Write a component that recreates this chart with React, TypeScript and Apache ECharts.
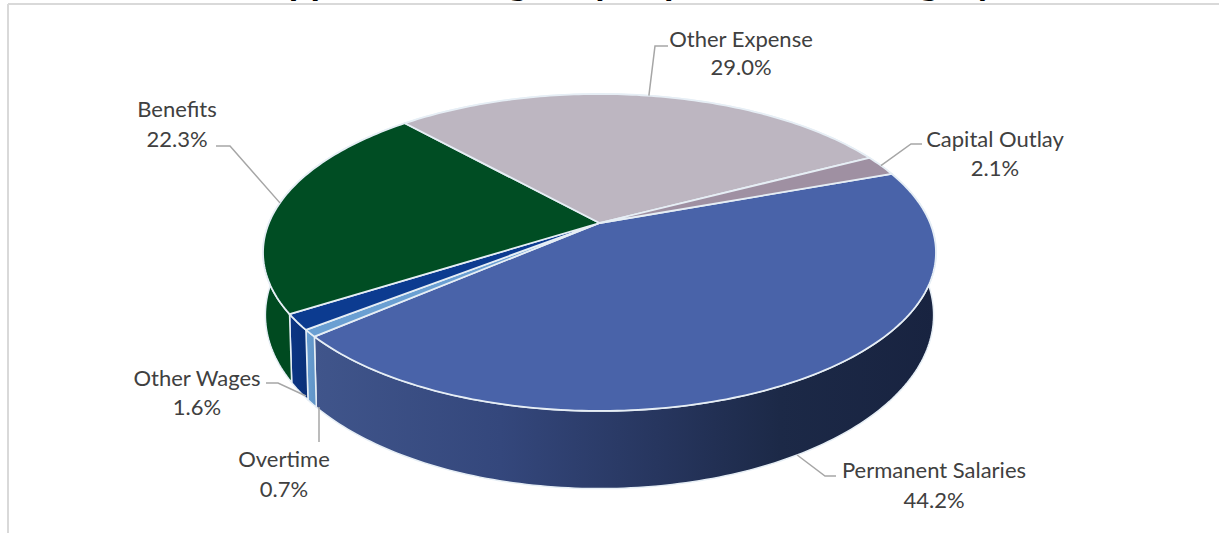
import React, { useEffect, useRef } from "react";
import * as echarts from "echarts";

const titleText = "Approved Budget by Expenditure Category";
const categories = ["Permanent Salaries", "Overtime", "Other Wages", "Benefits", "Other Expense", "Capital Outlay"];
const shares = [44.2, 0.7, 1.6, 22.3, 29.0, 2.1];

const topColors = ["#4963a9", "#6a9fd2", "#0c3b90", "#004d23", "#bdb6c1", "#9f90a2"];
const wallColors = [
  [[0, "#40558b"], [0.3, "#34477c"], [0.55, "#27365f"], [0.75, "#1c2947"], [1, "#182340"]],
  [[0, "#6a9fd2"], [1, "#5f93c6"]],
  [[0, "#0c3584"], [1, "#0a3078"]],
  [[0, "#004a20"], [1, "#004a20"]],
  [[0, "#8f8a93"], [1, "#8f8a93"]],
  [[0, "#7d7080"], [1, "#7d7080"]],
];

// label centre (two lines) and the start and elbow of its leader: [labelX, nameY, valueY, startX, startY, elbowX, elbowY, plane]
const labelLayout = [
  [934, 469, 499, 836, 476, 825, 476, 1],
  [284, 458, 488, 319, 442, 319, 442, 1],
  [197, 377, 406, 266, 383, 278, 383, 1],
  [177, 108, 138, 216, 146, 230, 146, 0],
  [741, 38, 66, 668, 46, 655, 46, 0],
  [995, 138, 167, 922, 144, 911, 144, 0],
];
// where a leader stops short of the slice's middle, it ends here instead
const leaderEnds: Record<number, [number, number]> = { 1: [319, 407], 2: [306, 396] };

const startAngle = -20;
const apex = [599.5, 223];
const perspective = 0.186;
const scaleH = 330.6;
const scaleV = 153;
const wallDrop = 59.8;
const wallScaleX = 0.993;
const wallScaleY = 1.095;

const rad = (d: number) => (d * Math.PI) / 180;
function rim(angle: number): [number, number] {
  const X = Math.cos(rad(angle));
  const Y = Math.sin(rad(angle));
  const w = 1 - perspective * Y;
  return [(X * scaleH) / w, (Y * scaleV) / w];
}
const topPoint = (a: number): [number, number] => {
  const [x, y] = rim(a);
  return [apex[0] + x, apex[1] + y];
};
const basePoint = (a: number): [number, number] => {
  const [x, y] = rim(a);
  return [apex[0] + x * wallScaleX, apex[1] + wallDrop + y * wallScaleY];
};
function sliceRange(i: number): [number, number] {
  const total = shares.reduce((s, v) => s + v, 0);
  const before = shares.slice(0, i).reduce((s, v) => s + v, 0);
  return [startAngle + (before / total) * 360, startAngle + ((before + shares[i]) / total) * 360];
}
function arc(from: number, to: number, fn: (a: number) => [number, number]) {
  const n = Math.max(2, Math.ceil(Math.abs(to - from)));
  const pts: [number, number][] = [];
  for (let k = 0; k <= n; k++) pts.push(fn(from + ((to - from) * k) / n));
  return pts;
}

const edge = "#e6eef5";
const FONT = "Lato";

export default function App() {
  const ref = useRef<HTMLDivElement>(null);
  useEffect(() => {
    const chart = echarts.init(ref.current!, null, { renderer: "svg" });
    const rows = shares.map((v, i) => [i, v]);
    chart.setOption({
      animation: false,
      backgroundColor: "#ffffff",
      title: {
        text: titleText,
        left: 262,
        top: -40,
        padding: 0,
        textStyle: { fontFamily: FONT, fontWeight: "bold", fontSize: 38.5, color: "#000000" },
      },
      graphic: [
        { type: "line", silent: true, shape: { x1: 8, y1: 4, x2: 1219, y2: 4 }, style: { stroke: "#d9d9d9", lineWidth: 2 } },
        { type: "line", silent: true, shape: { x1: 8, y1: 4, x2: 8, y2: 533 }, style: { stroke: "#d9d9d9", lineWidth: 2 } },
      ],
      series: [
        {
          type: "custom",
          coordinateSystem: "none",
          silent: true,
          z: 1,
          data: rows,
          renderItem: (_p: any, api: any) => {
            const i = api.value(0);
            const [a, b] = sliceRange(i);
            const pts = [...arc(a, b, topPoint), ...arc(b, a, basePoint)];
            return {
              type: "polygon",
              shape: { points: pts },
              style: {
                fill: new echarts.graphic.LinearGradient(0, 0, 1, 0, wallColors[i].map(([offset, color]) => ({ offset, color })) as any),
                stroke: edge,
                lineWidth: 1.5,
                lineJoin: "round",
              },
            };
          },
        },
        {
          type: "custom",
          coordinateSystem: "none",
          silent: true,
          z: 2,
          data: rows,
          renderItem: (_p: any, api: any) => {
            const i = api.value(0);
            const [a, b] = sliceRange(i);
            return {
              type: "polygon",
              shape: { points: [apex as [number, number], ...arc(a, b, topPoint)] },
              style: { fill: topColors[i], stroke: edge, lineWidth: 1.8, lineJoin: "round" },
            };
          },
        },
        {
          type: "custom",
          coordinateSystem: "none",
          silent: true,
          z: 3,
          data: rows,
          renderItem: (_p: any, api: any) => {
            const i = api.value(0);
            const [a, b] = sliceRange(i);
            const [lx, ny, vy, sx, sy, ex, ey, plane] = labelLayout[i];
            const mid = (a + b) / 2;
            const end = leaderEnds[i] ?? (plane ? basePoint(mid) : topPoint(mid));
            const textStyle = { fontFamily: FONT, fontSize: 22, fill: "#404040", align: "center", verticalAlign: "middle" };
            return {
              type: "group",
              children: [
                {
                  type: "polyline",
                  shape: { points: [[sx, sy], [ex, ey], end] },
                  style: { fill: "none", stroke: "#a6a6a6", lineWidth: 1.5 },
                },
                { type: "text", style: { ...textStyle, text: categories[i], x: lx, y: ny } },
                { type: "text", style: { ...textStyle, text: `${shares[i].toFixed(1)}%`, x: lx, y: vy } },
              ],
            };
          },
        },
      ],
    });
    return () => chart.dispose();
  }, []);
  return <div ref={ref} style={{ position: "fixed", left: 0, top: 0, width: 1219, height: 533 }} />;
}
